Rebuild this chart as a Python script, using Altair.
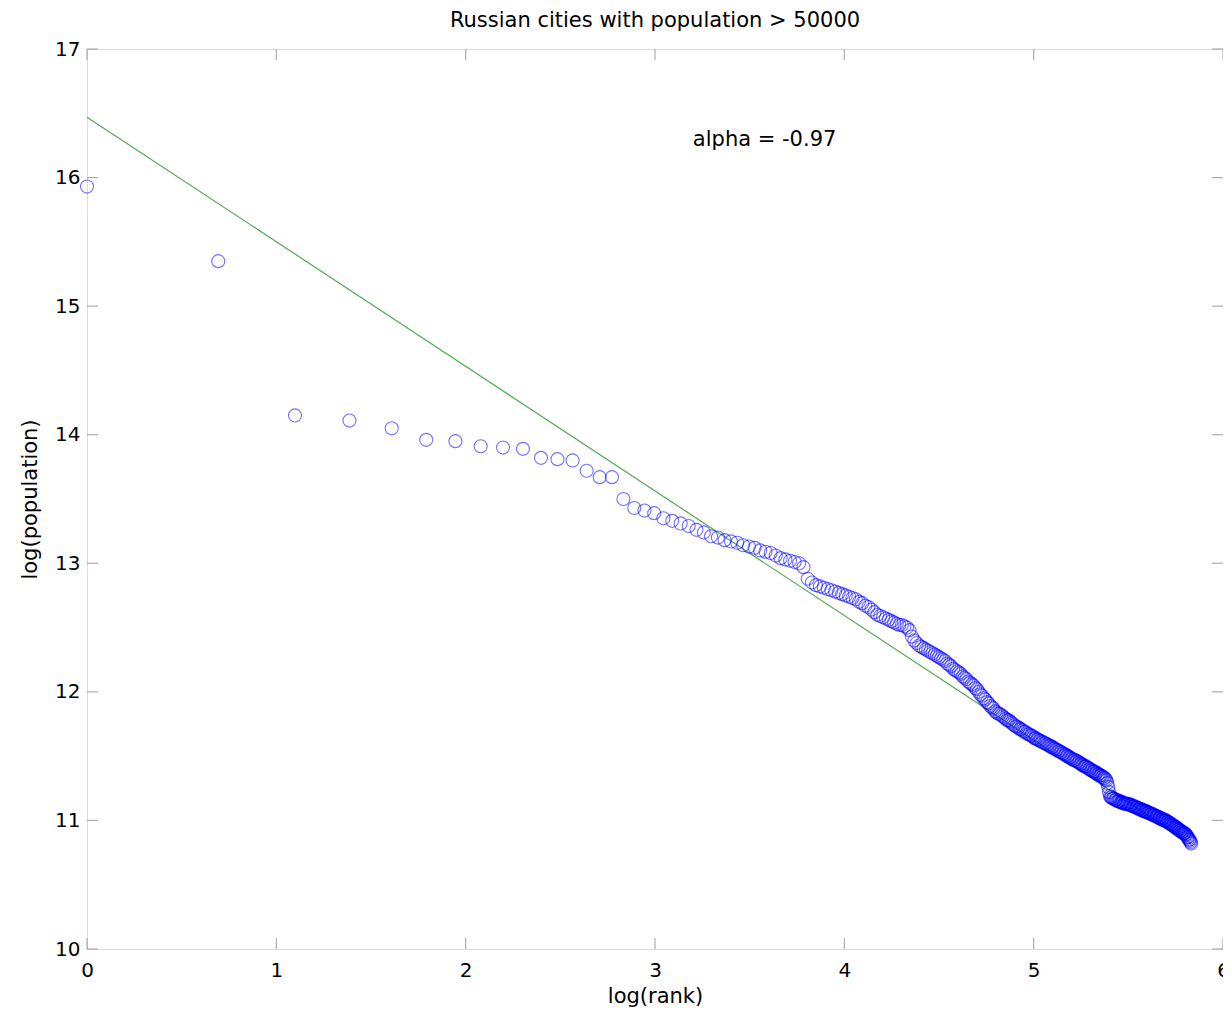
import altair as alt
import pandas as pd

chart_title = "Russian cities with population > 50000"
annotation = "alpha = -0.97"
ann_x = [3.2]
ann_y = [16.29]

# log(population) of cities, ordered by rank (rank 1 = largest)
log_pop = [
    15.93, 15.35, 14.15, 14.11, 14.05, 13.96, 13.95, 13.91, 13.90, 13.89,
    13.82, 13.81, 13.80, 13.72, 13.67, 13.67, 13.50, 13.43, 13.41, 13.39,
    13.35, 13.33, 13.31, 13.29, 13.26, 13.24, 13.21, 13.20, 13.18, 13.17,
    13.16, 13.14, 13.13, 13.12, 13.10, 13.09, 13.08, 13.06, 13.04, 13.03,
    13.02, 13.01, 13.00, 12.97, 12.88, 12.85, 12.83, 12.82, 12.81, 12.80,
    12.79, 12.78, 12.77, 12.76, 12.75, 12.74, 12.73, 12.72, 12.70, 12.69,
    12.67, 12.66, 12.64, 12.62, 12.60, 12.59, 12.58, 12.57, 12.56, 12.55,
    12.54, 12.53, 12.52, 12.52, 12.51, 12.50, 12.48, 12.43, 12.40, 12.38,
    12.36, 12.35, 12.34, 12.33, 12.32, 12.31, 12.30, 12.29, 12.28, 12.27,
    12.26, 12.25, 12.24, 12.22, 12.21, 12.20, 12.18, 12.17, 12.16, 12.15,
    12.14, 12.12, 12.11, 12.10, 12.08, 12.07, 12.06, 12.05, 12.03, 12.02,
    12.00, 11.98, 11.97, 11.95, 11.94, 11.92, 11.91, 11.89, 11.88, 11.87,
    11.85, 11.84, 11.83, 11.83, 11.82, 11.81, 11.80, 11.79, 11.78, 11.78,
    11.77, 11.76, 11.75, 11.74, 11.73, 11.73, 11.72, 11.71, 11.71, 11.70,
    11.69, 11.69, 11.68, 11.67, 11.67, 11.66, 11.66, 11.65, 11.64, 11.64,
    11.63, 11.63, 11.62, 11.62, 11.61, 11.61, 11.60, 11.60, 11.59, 11.59,
    11.58, 11.58, 11.57, 11.57, 11.56, 11.56, 11.55, 11.55, 11.54, 11.54,
    11.53, 11.53, 11.52, 11.52, 11.51, 11.51, 11.50, 11.50, 11.49, 11.49,
    11.48, 11.48, 11.47, 11.47, 11.47, 11.46, 11.46, 11.45, 11.45, 11.44,
    11.44, 11.43, 11.43, 11.42, 11.42, 11.42, 11.41, 11.41, 11.40, 11.40,
    11.39, 11.39, 11.38, 11.38, 11.38, 11.37, 11.37, 11.36, 11.36, 11.35,
    11.35, 11.35, 11.34, 11.34, 11.33, 11.33, 11.32, 11.31, 11.29, 11.26,
    11.22, 11.19, 11.18, 11.18, 11.17, 11.17, 11.17, 11.16, 11.16, 11.16,
    11.15, 11.15, 11.15, 11.15, 11.14, 11.14, 11.14, 11.14, 11.13, 11.13,
    11.13, 11.13, 11.13, 11.13, 11.13, 11.12, 11.12, 11.12, 11.12, 11.11,
    11.11, 11.11, 11.11, 11.10, 11.10, 11.10, 11.10, 11.09, 11.09, 11.09,
    11.09, 11.08, 11.08, 11.08, 11.08, 11.07, 11.07, 11.07, 11.07, 11.07,
    11.06, 11.06, 11.06, 11.06, 11.05, 11.05, 11.05, 11.05, 11.04, 11.04,
    11.04, 11.04, 11.03, 11.03, 11.03, 11.03, 11.02, 11.02, 11.02, 11.02,
    11.01, 11.01, 11.01, 11.01, 11.00, 11.00, 11.00, 11.00, 11.00, 10.99,
    10.99, 10.99, 10.98, 10.98, 10.98, 10.97, 10.97, 10.97, 10.96, 10.96,
    10.96, 10.95, 10.95, 10.95, 10.94, 10.94, 10.94, 10.93, 10.93, 10.93,
    10.92, 10.92, 10.92, 10.91, 10.91, 10.91, 10.90, 10.90, 10.90, 10.90,
    10.89, 10.89, 10.88, 10.87, 10.87, 10.86, 10.85, 10.85, 10.84, 10.83,
    10.82,
]

# fitted power-law line (log-log)
fit_x = [0.0, 5.83]
fit_y = [16.47, 10.82]

x_ticks = [0, 1, 2, 3, 4, 5, 6]
y_ticks = [10, 11, 12, 13, 14, 15, 16, 17]

W, H = 1136, 900
FONT = "DejaVu Sans"

pts = pd.DataFrame({"rank": list(range(1, len(log_pop) + 1)), "log_pop": log_pop})
fit = pd.DataFrame({"x": fit_x, "y": fit_y})
ann = pd.DataFrame({"x": ann_x, "y": ann_y, "label": [annotation]})
xt = pd.DataFrame({"t": x_ticks})
yt = pd.DataFrame({"t": y_ticks})

xs = alt.Scale(domain=[0, 6], nice=False, zero=False)
ys = alt.Scale(domain=[10, 17], nice=False, zero=False)

x_axis = alt.Axis(
    title="log(rank)", values=x_ticks, format="d", grid=False, ticks=False, tickSize=0,
    domain=False, labelFontSize=20, labelColor="#000", labelFont=FONT, labelPadding=11,
    labelFlush=False,
    titleFont=FONT, titleFontSize=21, titleFontWeight="normal", titleColor="#000", titlePadding=5,
)
y_axis = alt.Axis(
    title="log(population)", values=y_ticks, format="d", grid=False, ticks=False, tickSize=0,
    domain=False, labelFontSize=20, labelColor="#000", labelFont=FONT, labelPadding=7,
    labelFlush=False,
    titleFont=FONT, titleFontSize=21, titleFontWeight="normal", titleColor="#000", titlePadding=14,
)

X = lambda f: alt.X(f, scale=xs, axis=x_axis, title="log(rank)")
Y = lambda f: alt.Y(f, scale=ys, axis=y_axis, title="log(population)")

fit_line = alt.Chart(fit).mark_line(color="#55a855", strokeWidth=1.2).encode(
    x=X("x:Q"), y=Y("y:Q"),
)

points = alt.Chart(pts).transform_calculate(
    log_rank="log(datum.rank)"
).mark_point(
    shape="circle", filled=False, color="#0000ff", size=170, strokeWidth=1.1, opacity=0.55
).encode(
    x=X("log_rank:Q"), y=Y("log_pop:Q"),
)

text = alt.Chart(ann).mark_text(
    align="left", baseline="middle", fontSize=21, font=FONT, color="#000"
).encode(
    x=X("x:Q"), y=Y("y:Q"), text="label:N",
)

tick_style = dict(color="#8a8a8a", thickness=1.2, size=11)
top_ticks = alt.Chart(xt).mark_tick(orient="vertical", **tick_style).encode(
    x=X("t:Q"), y=alt.value(5.5)
)
bottom_ticks = alt.Chart(xt).mark_tick(orient="vertical", **tick_style).encode(
    x=X("t:Q"), y=alt.value(H - 5.5)
)
left_ticks = alt.Chart(yt).mark_tick(orient="horizontal", **tick_style).encode(
    y=Y("t:Q"), x=alt.value(5.5)
)
right_ticks = alt.Chart(yt).mark_tick(orient="horizontal", **tick_style).encode(
    y=Y("t:Q"), x=alt.value(W - 5.5)
)

chart = alt.layer(
    fit_line, top_ticks, bottom_ticks, left_ticks, right_ticks, points, text
).properties(
    width=W,
    height=H,
    title=alt.TitleParams(
        chart_title, fontSize=21, fontWeight="normal", font=FONT, color="#000",
        anchor="middle", offset=8,
    ),
    autosize="none",
    padding={"left": 79, "top": 41, "right": 0, "bottom": 62},
).configure_view(
    stroke="#8a8a8a", strokeWidth=2
).configure(background="white")

chart.save("out.html", embed_options={"renderer": "svg", "actions": False})
